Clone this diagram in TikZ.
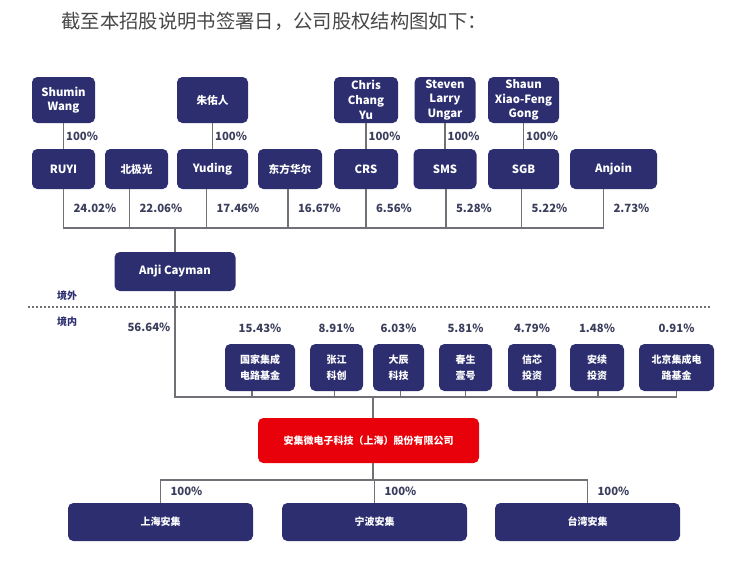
\documentclass[tikz,border=0pt]{standalone}
\usepackage{fontspec}
\setmainfont{Noto Sans CJK SC}
\usepackage{xcolor}
\usetikzlibrary{positioning,calc}
\definecolor{navy}{RGB}{44,46,112}
\definecolor{redbox}{RGB}{232,0,10}
\definecolor{pctc}{RGB}{58,62,92}
\definecolor{linec}{RGB}{112,112,118}

\begin{document}
\begin{tikzpicture}[x = 0.75pt, y = -0.75pt,
  org/.style = {fill = navy, rounded corners = 4pt, text = white, align = center, inner sep = 1pt, font = \bfseries\fontsize{8.5}{11}\selectfont},
  orgcn/.style = {org, font = \bfseries\fontsize{8}{12}\selectfont},
  bw/.style = {minimum width = #1*0.75pt},
  bh/.style = {minimum height = #1*0.75pt},
  pct/.style = {text = pctc, inner sep = 1pt, font = \bfseries\fontsize{8.5}{10}\selectfont},
  link/.style = {draw = linec, line width = 1pt}]
\useasboundingbox (0,0) rectangle (742,569);

\node[font = \fontsize{14.5}{16}\selectfont, text = black!72] (title) at (274,21) {截至本招股说明书签署日，公司股权结构图如下：};

% offshore holders
\node[org, bw = 63, bh = 46] (wang) at (63.5,100) {Shumin\\Wang};
\node[orgcn, bw = 71, bh = 46] (zhu) at (212.5,100) {朱佑人};
\node[org, bw = 64, bh = 46] (chris) at (366,100) {Chris\\Chang\\Yu};
\node[org, bw = 61, bh = 46] (steven) at (445,100) {Steven\\Larry\\Ungar};
\node[org, bw = 71, bh = 46] (shaun) at (523.5,100) {Shaun\\Xiao-Feng\\Gong};

\node[org, bw = 63, bh = 40] (ruyi) at (63.5,169) {RUYI};
\node[orgcn, bw = 63, bh = 40] (bjg) at (136.5,169) {北极光};
\node[org, bw = 71, bh = 40] (yuding) at (212.5,169) {Yuding};
\node[orgcn, bw = 64, bh = 40] (dfhe) at (290,169) {东方华尔};
\node[org, bw = 64, bh = 40] (crs) at (366,169) {CRS};
\node[org, bw = 63, bh = 40] (sms) at (445,169) {SMS};
\node[org, bw = 71, bh = 40] (sgb) at (523.5,169) {SGB};
\node[org, bw = 87, bh = 40] (anjoin) at (613.5,169) {Anjoin};

\foreach \a/\b in {wang/ruyi, zhu/yuding, chris/crs, steven/sms, shaun/sgb}
  \draw[link] (\a) -- (\b) node[pct, midway, right = 0.5pt] {100\%};

\node[org, bw = 121, bh = 39] (anji) at (175,271.5) {Anji Cayman};
\coordinate (busA) at (175,228);
\foreach \n/\dx/\p in {ruyi/0/24.02, bjg/-7/22.06, yuding/-6/17.46, dfhe/-2/16.67, crs/0/6.56, sms/1/5.28, sgb/-2/5.22, anjoin/-10/2.73}
  \draw[link] ($(\n.south)+(\dx,0)$) |- (busA) node[pct, pos = .25, right = 6pt] {\p\%};
\draw[link] (busA) -- (anji);

% border line
\node[text = navy, font = \bfseries\fontsize{7.5}{9}\selectfont] (jw) at (67,296) {境外};
\node[text = navy, font = \bfseries\fontsize{7.5}{9}\selectfont] (jn) at (67,322) {境内};
\coordinate (divL) at (28,307);
\coordinate (divR) at (711,307);
\draw[linec, line width = 1.2pt, dash pattern = on 1.5pt off 1.5pt] (divL) -- (divR);

% onshore holders
\foreach \n/\x/\w/\t/\p in {gjjc/260/70/{国家集成\\电路基金}/15.43, zjkc/336.5/53/{张江\\科创}/8.91, dckj/398.5/51/{大辰\\科技}/6.03, cssh/465.5/53/{春生\\壹号}/5.81, xxtz/532/48/{信芯\\投资}/4.79, axtz/597/54/{安续\\投资}/1.48, bjjc/676.5/75/{北京集成电\\路基金}/0.91} {
  \node[orgcn, bw = \w, bh = 47, font = \bfseries\fontsize{7.5}{12}\selectfont] (\n) at (\x,367.5) {\t};
  \node[pct, above = 7pt of \n] (p\n) {\p\%};
}
\coordinate (busB) at (373,397);
\foreach \n/\dx in {gjjc/-8, zjkc/-2, dckj/2, cssh/0, xxtz/5, axtz/1, bjjc/0}
  \draw[link] ($(\n.south)+(\dx,0)$) |- (busB);
\draw[link] (anji.south) |- (busB) node[pct, pos = .17, left = 2pt] {56.64\%};

\node[fill = redbox, rounded corners = 4pt, text = white, inner sep = 1pt, font = \bfseries\fontsize{7.5}{9}\selectfont, bw = 221, bh = 45] (ajwz) at (368.5,440.5) {安集微电子科技（上海）股份有限公司};
\draw[link] (busB) -- (busB |- ajwz.north);

% subsidiaries
\coordinate (busC) at (373,480);
\draw[link] (busC |- ajwz.south) -- (busC);
\foreach \n/\x/\t in {shaj/160.5/上海安集, nbaj/374.5/宁波安集, twaj/587.5/台湾安集} {
  \node[orgcn, bw = 185, bh = 38, font = \bfseries\fontsize{7.5}{9}\selectfont] (\n) at (\x,522) {\t};
  \draw[link] (busC) -| (\n.north) node[pct, pos = .75, right = 6pt] {100\%};
}
\end{tikzpicture}
\end{document}
